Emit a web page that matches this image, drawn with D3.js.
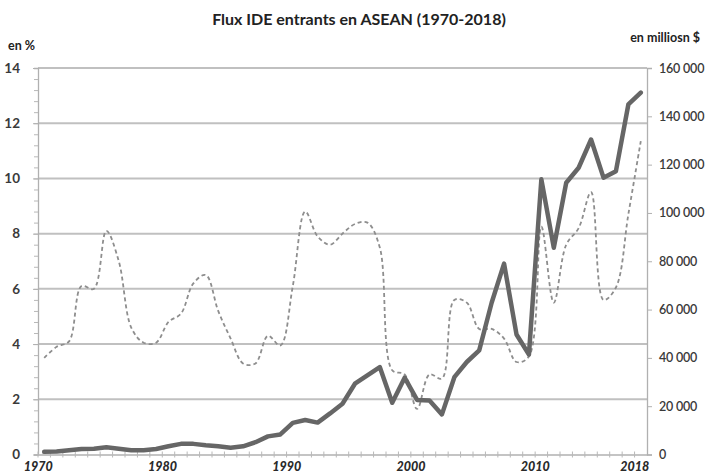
<!DOCTYPE html>
<html><head><meta charset="utf-8">
<script src="https://cdn.jsdelivr.net/npm/d3@7"></script>
<style>
html,body{margin:0;padding:0;background:#fff;}
svg{display:block;}
text{font-family:Lato,"Open Sans",sans-serif;}
</style></head>
<body>
<svg id="chart" width="712" height="473"></svg>
<script>
const years = d3.range(1970, 2019);
const sharePct = [3.5,3.9,4.1,6.1,6.0,8.1,7.0,4.6,4.05,4.05,4.8,5.1,6.2,6.5,5.2,4.2,3.3,3.3,4.3,3.95,
  6.1,8.8,7.9,7.6,8.0,8.35,8.4,7.5,3.05,2.9,1.65,2.9,2.75,5.6,5.5,4.55,4.55,4.2,3.35,3.55,
  8.25,5.5,7.6,8.2,9.5,5.6,6.05,8.7,11.35];
const flowsMUSD = [1100,1200,1800,2300,2400,3000,2400,1800,1800,2300,3400,4400,4400,3800,3400,2800,3400,5100,7500,8300,
  13100,14300,13200,17000,21000,29300,32800,36200,21400,31800,22600,22400,16600,32000,38300,43100,62800,79000,49700,41400,
  113900,85600,112500,118700,130400,114600,117300,144900,149800];
const leftTicks = [0,2,4,6,8,10,12,14];
const rightTicks = [0,20000,40000,60000,80000,100000,120000,140000,160000];
const xLabelYears = [1970,1980,1990,2000,2010,2018];
const titleText = "Flux IDE entrants en ASEAN (1970-2018)";
const leftUnit = "en %";
const rightUnit = "en milliosn $";

const svg = d3.select("#chart");
const m = {l:38, r:65, t:68, b:18.5};
const W = 712, H = 473;
const x0 = m.l, x1 = W - m.r, y0 = H - m.b, y1 = m.t;

const x = d3.scaleBand().domain(years).range([x0, x1]);
const xc = d => x(d) + x.bandwidth()/2;
const yL = d3.scaleLinear().domain([0,14]).range([y0, y1]);
const yR = d3.scaleLinear().domain([0,160000]).range([y0, y1]);

// gridlines
svg.append("g").selectAll("line").data(leftTicks.filter(t=>t>0)).join("line")
  .attr("x1", x0).attr("x2", x1).attr("y1", d=>yL(d)).attr("y2", d=>yL(d))
  .attr("stroke", "#c0c0c0").attr("stroke-width", 2);

// left axis
const gL = svg.append("g").attr("transform", `translate(${x0},0)`);
gL.call(d3.axisLeft(yL).tickValues(d3.range(0, 14.001, 0.4)).tickSize(4).tickFormat(""));
gL.select(".domain").attr("stroke", "#b0b0b0").attr("stroke-width", 1.3);
gL.selectAll(".tick line").attr("stroke", "#b8b8b8");
const gL2 = svg.append("g").attr("transform", `translate(${x0},0)`);
gL2.call(d3.axisLeft(yL).tickValues(leftTicks).tickSize(5).tickPadding(13));
gL2.select(".domain").remove();
gL2.selectAll(".tick line").attr("stroke", "#b0b0b0");
gL2.selectAll(".tick text").attr("font-size", 13.5).attr("font-weight", 700).attr("fill", "#3a3a3a");

// right axis
const gR = svg.append("g").attr("transform", `translate(${x1},0)`);
gR.call(d3.axisRight(yR).tickValues(rightTicks).tickSize(5).tickPadding(7)
  .tickFormat(d => d3.format(",")(d).replace(/,/g, " ")));
gR.select(".domain").attr("stroke", "#b0b0b0").attr("stroke-width", 1.3);
gR.selectAll(".tick line").attr("stroke", "#b0b0b0");
gR.selectAll(".tick text").attr("font-size", 12.5).attr("font-weight", 600).attr("fill", "#3a3a3a")
  .attr("letter-spacing", "-0.2");

// x axis
const gX = svg.append("g").attr("transform", `translate(0,${y0})`);
gX.call(d3.axisBottom(x).tickValues([]).tickSize(0));
gX.select(".domain").attr("stroke", "#b0b0b0").attr("stroke-width", 1.3);
svg.append("g").selectAll("line").data(years).join("line")
  .attr("x1", d=>x(d)).attr("x2", d=>x(d)).attr("y1", y0-3).attr("y2", y0+3)
  .attr("stroke", "#b8b8b8").attr("stroke-width", 1);
svg.append("g").selectAll("text").data(xLabelYears).join("text")
  .attr("x", d=>xc(d) - 6).attr("y", y0 + 16.5)
  .attr("text-anchor", "middle").attr("font-size", 12.5).attr("font-weight", 900)
  .attr("font-style", "italic").attr("fill", "#2a2a2a").text(d=>d);

// dashed share line
const lineL = d3.line().x((d,i)=>xc(years[i])).y(d=>yL(d)).curve(d3.curveCatmullRom.alpha(0.5));
svg.append("path").attr("d", lineL(sharePct)).attr("fill","none")
  .attr("stroke","#8e8e8e").attr("stroke-width",1.8).attr("stroke-dasharray","4,3");

// solid flows line
const lineR = d3.line().x((d,i)=>xc(years[i])).y(d=>yR(d));
svg.append("path").attr("d", lineR(flowsMUSD)).attr("fill","none")
  .attr("stroke","#666666").attr("stroke-width",4.5).attr("stroke-linejoin","round").attr("stroke-linecap","round");

// titles
svg.append("text").attr("x", 359).attr("y", 25).attr("text-anchor","middle")
  .attr("font-size", 16).attr("font-weight", 700).attr("fill", "#222").text(titleText);
svg.append("text").attr("x", 8).attr("y", 50).attr("font-size", 12.5).attr("font-weight", 700)
  .attr("fill", "#222").text(leftUnit);
svg.append("text").attr("x", 700).attr("y", 42).attr("text-anchor","end").attr("font-size", 12.5)
  .attr("font-weight", 700).attr("fill", "#222").text(rightUnit);
</script>
</body></html>
